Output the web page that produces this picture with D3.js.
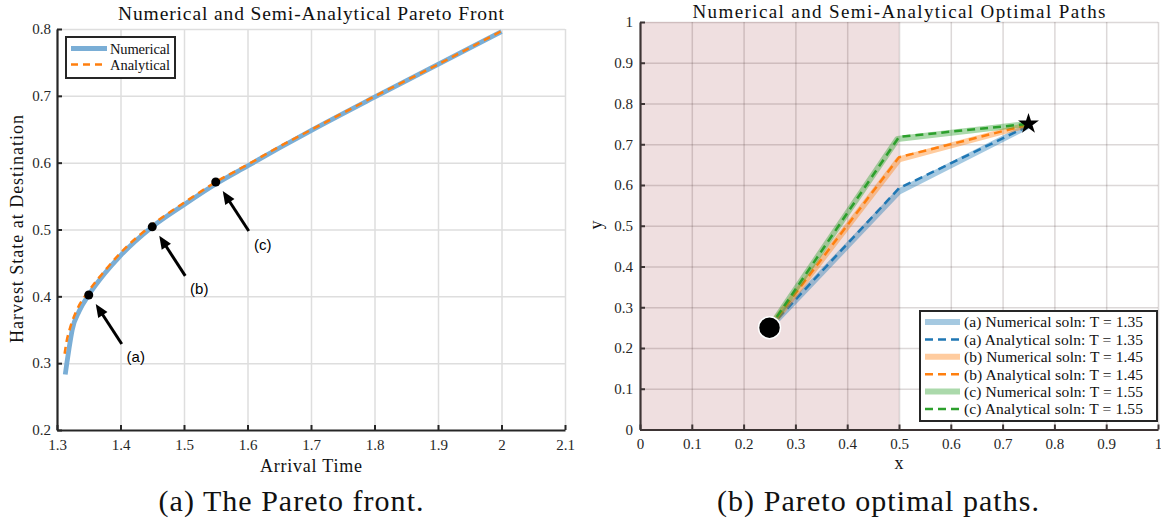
<!DOCTYPE html>
<html>
<head>
<meta charset="utf-8">
<script src="https://cdn.jsdelivr.net/npm/d3@7"></script>
<style>
  body { margin: 0; background: #fff; }
  svg { display: block; }
</style>
</head>
<body>
<script>
// ---------- data: Pareto front ----------
const frontNumT = [1.313, 1.3155, 1.319, 1.324, 1.335, 1.35, 1.375, 1.4, 1.45, 1.5, 1.55, 1.6, 1.65, 1.7, 1.8, 1.9, 2.0];
const frontNumY = [0.283, 0.300, 0.322, 0.350, 0.378, 0.402, 0.434, 0.461, 0.504, 0.537, 0.568, 0.595, 0.622, 0.648, 0.698, 0.747, 0.796];
const frontAnaT = [1.312, 1.315, 1.32, 1.33, 1.35, 1.375, 1.4, 1.45, 1.5, 1.55, 1.6, 1.65, 1.7, 1.8, 1.9, 2.0];
const frontAnaY = [0.314, 0.332, 0.351, 0.377, 0.408, 0.438, 0.465, 0.507, 0.540, 0.571, 0.597, 0.624, 0.649, 0.699, 0.747, 0.797];
const pickT = [1.35, 1.45, 1.55];
const pickY = [0.402, 0.504, 0.571];
const pickLabels = ["(a)", "(b)", "(c)"];

const xTicksL = [1.3, 1.4, 1.5, 1.6, 1.7, 1.8, 1.9, 2.0, 2.1];
const xLabelsL = ["1.3", "1.4", "1.5", "1.6", "1.7", "1.8", "1.9", "2", "2.1"];
const yTicksL = [0.2, 0.3, 0.4, 0.5, 0.6, 0.7, 0.8];
const yLabelsL = ["0.2", "0.3", "0.4", "0.5", "0.6", "0.7", "0.8"];

// ---------- data: optimal paths ----------
const pathNames = ["(a)", "(b)", "(c)"];
const pathT = ["1.35", "1.45", "1.55"];
const numPathX = [[0.25, 0.5, 0.75], [0.25, 0.5, 0.75], [0.25, 0.497, 0.75]];
const numPathY = [[0.25, 0.584, 0.745], [0.25, 0.663, 0.748], [0.25, 0.713, 0.75]];
const anaPathX = [[0.25, 0.5, 0.75], [0.25, 0.5, 0.75], [0.25, 0.5, 0.75]];
const anaPathY = [[0.25, 0.592, 0.745], [0.25, 0.668, 0.748], [0.25, 0.718, 0.75]];
const startPt = [0.25, 0.25];
const goalPt = [0.75, 0.75];
const shadeX = [0, 0.5];

const xTicksR = [0, 0.1, 0.2, 0.3, 0.4, 0.5, 0.6, 0.7, 0.8, 0.9, 1];
const xLabelsR = ["0", "0.1", "0.2", "0.3", "0.4", "0.5", "0.6", "0.7", "0.8", "0.9", "1"];
const yTicksR = xTicksR;
const yLabelsR = xLabelsR;

// ---------- setup ----------
const W = 1161, H = 522;
const serif = "'Liberation Serif', 'Times New Roman', serif";
const sans = "'Liberation Sans', Arial, sans-serif";
const colors = ["#1f77b4", "#ff7f0e", "#2ca02c"];

const svg = d3.select("body").append("svg")
    .attr("width", W)
    .attr("height", H)
    .attr("viewBox", [0, 0, W, H])
    .style("background", "#fff");

function drawGrid(g, x, y, xt, yt, color) {
    const [y0, y1] = y.range();
    const [x0, x1] = x.range();
    g.append("g")
        .attr("transform", `translate(0,${y0})`)
        .call(d3.axisBottom(x).tickValues(xt).tickSize(-(y0 - y1)).tickFormat(""))
        .call(a => a.select(".domain").remove())
        .call(a => a.selectAll("line").attr("stroke", color).attr("stroke-width", 1.5));
    g.append("g")
        .attr("transform", `translate(${x0},0)`)
        .call(d3.axisLeft(y).tickValues(yt).tickSize(-(x1 - x0)).tickFormat(""))
        .call(a => a.select(".domain").remove())
        .call(a => a.selectAll("line").attr("stroke", color).attr("stroke-width", 1.5));
}

function drawAxes(g, x, y, xt, xl, yt, yl, color, yPad) {
    g.append("g")
        .attr("transform", `translate(0,${y.range()[0]})`)
        .call(d3.axisBottom(x).tickValues(xt).tickFormat((d, i) => xl[i])
            .tickSizeInner(-5).tickSizeOuter(0).tickPadding(9))
        .call(a => a.select(".domain").attr("stroke", color).attr("stroke-width", 2.2))
        .call(a => a.selectAll(".tick line").attr("stroke", color).attr("stroke-width", 2))
        .call(a => a.selectAll("text").attr("font-family", serif).attr("font-size", 15).attr("fill", "#262626"));
    g.append("g")
        .attr("transform", `translate(${x.range()[0]},0)`)
        .call(d3.axisLeft(y).tickValues(yt).tickFormat((d, i) => yl[i])
            .tickSizeInner(-5).tickSizeOuter(0).tickPadding(yPad))
        .call(a => a.select(".domain").attr("stroke", color).attr("stroke-width", 2.2))
        .call(a => a.selectAll(".tick line").attr("stroke", color).attr("stroke-width", 2))
        .call(a => a.selectAll("text").attr("font-family", serif).attr("font-size", 15).attr("fill", "#262626"));
}

// text with a target width (the reference uses a wider Computer Modern face)
function label(x, y, txt, size, len, opts = {}) {
    const t = svg.append("text")
        .attr("x", x).attr("y", y)
        .attr("text-anchor", "middle")
        .attr("font-family", serif)
        .attr("font-size", size)
        .attr("fill", "#111")
        .attr("textLength", len)
        .attr("lengthAdjust", "spacing")
        .text(txt);
    if (opts.rotate) t.attr("transform", `rotate(-90,${x},${y})`);
    return t;
}

// ---------- left: Pareto front ----------
const xL = d3.scaleLinear([1.3, 2.1], [57, 565]);
const yL = d3.scaleLinear([0.2, 0.8], [430, 29]);
const gL = svg.append("g");

drawGrid(gL, xL, yL, xTicksL.slice(1), yTicksL.slice(1), "#dedede");

const frontLine = d3.line().curve(d3.curveMonotoneX);
gL.append("path")
    .attr("d", frontLine(frontNumT.map((t, i) => [xL(t), yL(frontNumY[i])])))
    .attr("fill", "none")
    .attr("stroke", "#7aaed6")
    .attr("stroke-width", 4.8);
gL.append("path")
    .attr("d", frontLine(frontAnaT.map((t, i) => [xL(t), yL(frontAnaY[i])])))
    .attr("fill", "none")
    .attr("stroke", "#ff7f0e")
    .attr("stroke-width", 2.5)
    .attr("stroke-dasharray", "7,5");

function arrow(g, tip, tail) {
    const dx = tip[0] - tail[0], dy = tip[1] - tail[1];
    const L = Math.hypot(dx, dy), ux = dx / L, uy = dy / L;
    const hl = 13, hw = 5.5;
    const bx = tip[0] - ux * hl, by = tip[1] - uy * hl;
    g.append("line")
        .attr("x1", tail[0]).attr("y1", tail[1])
        .attr("x2", bx + ux * 2).attr("y2", by + uy * 2)
        .attr("stroke", "#000").attr("stroke-width", 3);
    g.append("path")
        .attr("d", `M${tip[0]},${tip[1]}L${bx - uy * hw},${by + ux * hw}L${bx + uy * hw},${by - ux * hw}Z`)
        .attr("fill", "#000");
}

pickT.forEach((t, i) => {
    const px = xL(t), py = yL(pickY[i]);
    gL.append("circle").attr("cx", px).attr("cy", py).attr("r", 4.5).attr("fill", "#000");
    arrow(gL, [px + 7, py + 9], [px + 33, py + 49]);
    gL.append("text")
        .attr("x", px + 47).attr("y", py + 62)
        .attr("text-anchor", "middle")
        .attr("dominant-baseline", "central")
        .attr("font-family", sans)
        .attr("font-size", 15)
        .attr("fill", "#000")
        .text(pickLabels[i]);
});

drawAxes(gL, xL, yL, xTicksL, xLabelsL, yTicksL, yLabelsL, "#262626", 6);

// legend (left)
const legL = gL.append("g");
legL.append("rect")
    .attr("x", 66).attr("y", 37).attr("width", 109).attr("height", 41)
    .attr("fill", "#fff").attr("stroke", "#262626").attr("stroke-width", 2);
[["Numerical", "#7aaed6", 4.8, null], ["Analytical", "#ff7f0e", 2.5, "7,5"]].forEach((e, i) => {
    const yy = 48.5 + i * 16;
    legL.append("line")
        .attr("x1", 71).attr("x2", 107).attr("y1", yy).attr("y2", yy)
        .attr("stroke", e[1]).attr("stroke-width", e[2])
        .attr("stroke-dasharray", e[3]);
    legL.append("text")
        .attr("x", 110).attr("y", yy).attr("dy", "0.35em")
        .attr("font-family", serif).attr("font-size", 14.5).attr("fill", "#111")
        .attr("textLength", 60).attr("lengthAdjust", "spacing")
        .text(e[0]);
});

label(311, 19.5, "Numerical and Semi-Analytical Pareto Front", 19.5, 386);
label(311, 472, "Arrival Time", 18, 102);
label(23, 229, "Harvest State at Destination", 18, 228, { rotate: true });
label(291, 511, "(a) The Pareto front.", 30, 265);

// ---------- right: optimal paths ----------
const xR = d3.scaleLinear([0, 1], [640, 1158]);
const yR = d3.scaleLinear([0, 1], [429.5, 22]);
const gR = svg.append("g");

gR.append("rect")
    .attr("x", xR(shadeX[0])).attr("y", yR(1))
    .attr("width", xR(shadeX[1]) - xR(shadeX[0]))
    .attr("height", yR(0) - yR(1))
    .attr("fill", "#efdfe0");

drawGrid(gR, xR, yR, xTicksR.slice(1), yTicksR.slice(1), "rgba(60,40,40,0.18)");

const pathLine = d3.line();
pathNames.forEach((n, i) => {
    gR.append("path")
        .attr("d", pathLine(numPathX[i].map((x, j) => [xR(x), yR(numPathY[i][j])])))
        .attr("fill", "none")
        .attr("stroke", colors[i]).attr("stroke-opacity", 0.4)
        .attr("stroke-width", 6)
        .attr("stroke-linejoin", "round");
    gR.append("path")
        .attr("d", pathLine(anaPathX[i].map((x, j) => [xR(x), yR(anaPathY[i][j])])))
        .attr("fill", "none")
        .attr("stroke", colors[i])
        .attr("stroke-width", 2.5)
        .attr("stroke-dasharray", "8,5");
});

gR.append("circle")
    .attr("cx", xR(startPt[0])).attr("cy", yR(startPt[1])).attr("r", 11)
    .attr("fill", "#000").attr("stroke", "#fff").attr("stroke-width", 1.5);
gR.append("path")
    .attr("d", d3.symbol(d3.symbolStar, 135)())
    .attr("transform", `translate(${xR(goalPt[0])},${yR(goalPt[1])})`)
    .attr("fill", "#000");

drawAxes(gR, xR, yR, xTicksR, xLabelsR, yTicksR, yLabelsR, "#3d3434", 7);

// legend (right)
const legR = gR.append("g");
legR.append("rect")
    .attr("x", 920).attr("y", 311).attr("width", 237).attr("height", 110)
    .attr("fill", "#fff").attr("stroke", "#262626").attr("stroke-width", 2);
pathNames.forEach((n, i) => {
    [["Numerical", 0.4, 6, null], ["Analytical", 1, 2.5, "8,5"]].forEach((e, k) => {
        const yy = 322 + (i * 2 + k) * 17.4;
        legR.append("line")
            .attr("x1", 925).attr("x2", 960).attr("y1", yy).attr("y2", yy)
            .attr("stroke", colors[i]).attr("stroke-opacity", e[1])
            .attr("stroke-width", e[2]).attr("stroke-dasharray", e[3]);
        legR.append("text")
            .attr("x", 964).attr("y", yy).attr("dy", "0.35em")
            .attr("font-family", serif).attr("font-size", 15.5).attr("fill", "#111")
            .attr("textLength", 179).attr("lengthAdjust", "spacing")
            .text(`${n} ${e[0]} soln: T = ${pathT[i]}`);
    });
});

label(899, 18, "Numerical and Semi-Analytical Optimal Paths", 19, 413);
label(899, 469, "x", 18, 9);
label(602, 225, "y", 18, 9, { rotate: true });
label(878, 511, "(b) Pareto optimal paths.", 30, 322);
</script>
</body>
</html>
